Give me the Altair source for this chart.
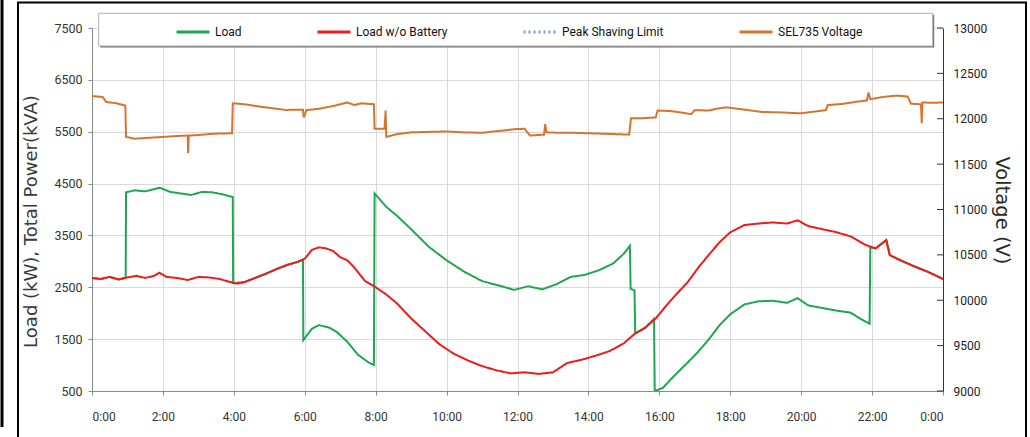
import altair as alt
import pandas as pd

# ---------------- data ----------------
series_names = ["Load", "Load w/o Battery", "Peak Shaving Limit", "SEL735 Voltage"]
series_colors = ["#1ea84e", "#ee1b1b", "#7d9dd8", "#d6742e"]
series_dash = [[1, 0], [1, 0], [2, 3], [1, 0]]

x_ticks = [0, 2, 4, 6, 8, 10, 12, 14, 16, 18, 20, 22, 24]
left_ticks = [500, 1500, 2500, 3500, 4500, 5500, 6500, 7500]
right_ticks = [9000, 9500, 10000, 10500, 11000, 11500, 12000, 12500, 13000]

hours_nobat = [0.0, 0.25, 0.5, 0.75, 1.0, 1.25, 1.5, 1.75, 1.9, 2.1, 2.4, 2.7, 3.0, 3.3,
               3.6, 3.9, 4.1, 4.3, 4.6, 4.9, 5.2, 5.5, 5.8, 6.0, 6.2, 6.4, 6.6, 6.8, 7.0,
               7.2, 7.4, 7.7, 8.0, 8.3, 8.6, 9.0, 9.4, 9.8, 10.2, 10.6, 11.0, 11.4, 11.8,
               12.2, 12.6, 13.0, 13.4, 13.8, 14.2, 14.6, 15.0, 15.3, 15.6, 15.9, 16.2,
               16.5, 16.8, 17.1, 17.4, 17.7, 18.0, 18.4, 18.8, 19.2, 19.6, 19.9, 20.2,
               20.6, 21.0, 21.4, 21.8, 22.1, 22.4, 22.5, 22.8, 23.2, 23.6, 24.0]
load_nobat = [2680, 2660, 2700, 2650, 2690, 2720, 2680, 2720, 2780, 2700, 2680, 2640, 2700,
              2690, 2660, 2600, 2570, 2600, 2680, 2760, 2850, 2930, 2990, 3050, 3220, 3270,
              3250, 3200, 3080, 3020, 2880, 2620, 2500, 2360, 2190, 1900, 1650, 1400, 1220,
              1090, 980, 900, 840, 860, 830, 860, 1040, 1100, 1180, 1270, 1420, 1600, 1720,
              1900, 2150, 2380, 2600, 2880, 3130, 3370, 3560, 3700, 3730, 3750, 3730, 3790,
              3680, 3620, 3560, 3480, 3320, 3250, 3410, 3120, 3020, 2900, 2790, 2660]

hours_load = [0.0, 0.25, 0.5, 0.75, 0.95, 0.96, 1.2, 1.5, 1.91, 2.2, 2.5, 2.8, 3.1, 3.4, 3.7,
              3.97, 3.98, 4.3, 4.6, 4.9, 5.2, 5.5, 5.8, 5.95, 5.96, 6.2, 6.4, 6.7, 6.9, 7.2,
              7.5, 7.8, 7.95, 7.97, 8.3, 8.6, 9.0, 9.5, 10.0, 10.5, 11.0, 11.5, 11.9, 12.3,
              12.7, 13.1, 13.5, 13.9, 14.3, 14.7, 15.0, 15.17, 15.19, 15.3, 15.32, 15.6,
              15.85, 15.87, 16.1, 16.4, 16.8, 17.1, 17.4, 17.7, 18.0, 18.4, 18.8, 19.2, 19.6,
              19.9, 20.2, 20.6, 21.0, 21.4, 21.7, 21.93, 21.95, 22.1, 22.4, 22.5, 22.8, 23.2,
              23.6, 24.0]
load = [2680, 2660, 2700, 2650, 2690, 4330, 4370, 4350, 4420, 4340, 4310, 4280, 4340, 4330,
        4290, 4240, 2580, 2600, 2680, 2760, 2850, 2930, 2990, 3030, 1480, 1700, 1770, 1720,
        1640, 1450, 1200, 1050, 1000, 4310, 4050, 3880, 3620, 3280, 3020, 2800, 2620, 2530,
        2450, 2520, 2460, 2560, 2700, 2740, 2830, 2960, 3150, 3300, 2470, 2440, 1610, 1720,
        1890, 500, 560, 780, 1050, 1260, 1500, 1770, 1980, 2170, 2230, 2240, 2200, 2290,
        2150, 2100, 2050, 2010, 1880, 1800, 3270, 3250, 3410, 3120, 3020, 2900, 2790, 2660]

hours_volt = [0.0, 0.3, 0.4, 0.7, 0.94, 0.96, 1.2, 1.6, 2.0, 2.4, 2.7, 2.71, 2.73, 3.0, 3.4,
              3.95, 3.97, 4.3, 4.8, 5.2, 5.5, 5.6, 5.95, 5.97, 6.05, 6.4, 6.8, 6.9, 7.2, 7.4,
              7.6, 7.95, 7.97, 8.25, 8.28, 8.3, 8.6, 9.0, 9.5, 10.0, 10.5, 11.0, 11.3, 11.6,
              11.9, 12.2, 12.35, 12.75, 12.78, 12.82, 13.2, 13.6, 14.0, 14.4, 14.8, 15.15,
              15.2, 15.5, 15.9, 15.95, 16.3, 16.6, 16.9, 17.0, 17.4, 17.6, 17.9, 18.4, 18.9,
              19.4, 19.98, 20.3, 20.7, 20.75, 21.2, 21.6, 21.85, 21.9, 21.95, 22.3, 22.7,
              23.0, 23.1, 23.38, 23.4, 23.42, 23.7, 24.0]
volt = [12250, 12240, 12185, 12170, 12145, 11800, 11780, 11790, 11800, 11810, 11815, 11620,
        11815, 11820, 11835, 11840, 12170, 12160, 12130, 12110, 12095, 12100, 12100, 12015,
        12095, 12110, 12140, 12150, 12180, 12150, 12170, 12160, 11890, 11890, 12090, 11800,
        11830, 11850, 11855, 11860, 11850, 11845, 11860, 11870, 11885, 11890, 11815, 11825,
        11940, 11850, 11845, 11845, 11840, 11835, 11830, 11825, 12005, 12005, 12015, 12090,
        12085, 12070, 12050, 12095, 12090, 12110, 12125, 12100, 12075, 12070, 12060, 12075,
        12095, 12150, 12165, 12190, 12200, 12290, 12215, 12240, 12255, 12245, 12165, 12160,
        11950, 12180, 12175, 12180]

# ---------------- layout ----------------
W, H = 851, 363
PL, PT = 92, 28
LBL = "Roboto"
TTL = "DejaVu Sans"


def frame(name, hrs, vals):
    return pd.DataFrame({"h": hrs, "v": vals, "series": name, "idx": list(range(len(hrs)))})


df_load = frame("Load", hours_load, load)
df_nobat = frame("Load w/o Battery", hours_nobat, load_nobat)
df_volt = frame("SEL735 Voltage", hours_volt, volt)

legend = alt.Legend(
    title=None, orient="none", legendX=83, legendY=-14, direction="horizontal",
    columns=4, columnPadding=69, symbolType="stroke", symbolSize=1089,
    symbolStrokeWidth=3, labelFont=LBL, labelFontSize=12, labelColor="#111",
    labelOffset=4,
)
color = alt.Color("series:N", scale=alt.Scale(domain=series_names, range=series_colors), legend=legend)
dash = alt.StrokeDash("series:N", scale=alt.Scale(domain=series_names, range=series_dash), legend=legend)

x_enc = alt.X(
    "h:Q", scale=alt.Scale(domain=[0, 24], nice=False, zero=False),
    axis=alt.Axis(values=x_ticks, labelExpr="(datum.value % 24) + ':00'", title=None,
                  grid=True, gridColor="#d9d9d9", domainColor="#8a8a8a", tickColor="#8a8a8a",
                  tickSize=4, labelPadding=16, labelFont=LBL, labelFontSize=12,
                  labelColor="#333"),
)

y_left = alt.Y(
    "v:Q", scale=alt.Scale(domain=[500, 7500], nice=False, zero=False),
    axis=alt.Axis(values=left_ticks, format="d", grid=True, gridColor="#d9d9d9",
                  domainColor="#8a8a8a", tickColor="#8a8a8a", tickSize=4, labelPadding=6,
                  labelFont=LBL, labelFontSize=12.5, labelColor="#333",
                  title="Load (kW),  Total Power(kVA)", titleFont=TTL, titleFontSize=18,
                  titleFontWeight="normal", titleColor="#3a3a3a", titleAngle=270,
                  titleAlign="center", titleBaseline="middle", titleX=-61, titleY=193),
)

y_right_axis = alt.Axis(
    orient="right", values=right_ticks, format="d", grid=False, domainColor="#333",
    tickSize=0, labelPadding=10, labelFont=LBL, labelFontSize=12, labelColor="#222",
    title="Voltage (V)", titleFont=TTL, titleFontSize=19.5, titleFontWeight="normal",
    titleColor="#2a2a2a", titleAngle=90, titleAlign="center", titleBaseline="middle",
    titleX=58, titleY=182,
)
y_right = alt.Y("v:Q", scale=alt.Scale(domain=[9000, 13000], nice=False, zero=False),
                axis=y_right_axis)

green = alt.Chart(df_load).mark_line(strokeWidth=2, clip=True).encode(
    x=x_enc, y=y_left, color=color, strokeDash=dash, order="idx:Q")
red = alt.Chart(df_nobat).mark_line(strokeWidth=2, clip=True).encode(
    x=x_enc, y=y_left, color=color, strokeDash=dash, order="idx:Q")
left = alt.layer(green, red)

orange = alt.Chart(df_volt).mark_line(strokeWidth=2, clip=True).encode(
    x=x_enc, y=y_right, color=color, strokeDash=dash, order="idx:Q")
rticks = alt.Chart(pd.DataFrame({"v": right_ticks})).mark_rule(color="#333", strokeWidth=1).encode(
    y=y_right, x=alt.value(W - 6), x2=alt.value(W))
right = alt.layer(orange, rticks)

one = pd.DataFrame({"d": [0]})
shadow = alt.Chart(one).mark_rect(fill="#6e6e6e").encode(
    x=alt.value(98.7 - PL + 1.5), x2=alt.value(932.7 - PL + 1.5),
    y=alt.value(13.3 - PT + 1.5), y2=alt.value(46 - PT + 1.5))
box = alt.Chart(one).mark_rect(fill="white", stroke="#b0b0b0", strokeWidth=1).encode(
    x=alt.value(98.7 - PL), x2=alt.value(932.7 - PL),
    y=alt.value(13.3 - PT), y2=alt.value(46 - PT))
outer = alt.Chart(one).mark_rect(filled=False, stroke="black", strokeWidth=2).encode(
    x=alt.value(18 - PL), x2=alt.value(1026 - PL), y=alt.value(2.5 - PT), y2=alt.value(470))
leftline = alt.Chart(one).mark_rule(color="black", strokeWidth=3).encode(
    x=alt.value(2 - PL), y=alt.value(-PT), y2=alt.value(427 - PT))

chart = alt.layer(left, right, shadow, box, outer, leftline).resolve_scale(
    y="independent"
).properties(
    width=W, height=H,
    autosize=alt.AutoSizeParams(type="none"),
    padding={"left": PL, "top": PT, "right": 1030 - PL - W, "bottom": 437 - PT - H},
    background="white",
).configure_view(strokeWidth=0)

chart.save("out.html", embed_options={"renderer": "svg", "actions": False})
